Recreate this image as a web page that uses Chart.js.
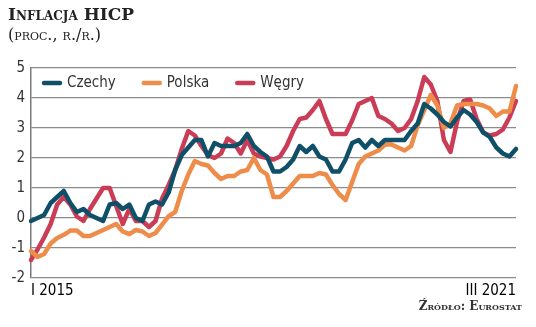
<!DOCTYPE html>
<html>
<head>
<meta charset="utf-8">
<script src="https://cdn.jsdelivr.net/npm/chart.js@4.4.1/dist/chart.umd.min.js"></script>
<style>
  body { margin: 0; background: #fff; }
  #wrap { position: relative; width: 536px; height: 327px; }
  #chart { position: absolute; left: 0; top: 0; }
  .title { position: absolute; left: 8px; top: 4px; font: bold 17px 'DejaVu Serif', serif; font-variant: small-caps; color: #222; }
  .sub { position: absolute; left: 8px; top: 25px; font: 16px 'DejaVu Serif', serif; font-variant: small-caps; color: #222; }
  .source { position: absolute; right: 14px; top: 299px; font: bold 12px 'DejaVu Serif', serif; font-variant: small-caps; color: #333; }
</style>
</head>
<body>
<div id="wrap">
  <canvas id="chart" width="536" height="327"></canvas>
  <div class="title">Inflacja HICP</div>
  <div class="sub">(proc., r./r.)</div>
  <div class="source">Źródło: Eurostat</div>
</div>
<script>
var romans, years, months, czechy, polska, wegry, yTicks, narrow, legendInside, chart;

romans = ['I', 'II', 'III', 'IV', 'V', 'VI', 'VII', 'VIII', 'IX', 'X', 'XI', 'XII'];
years = [2015, 2016, 2017, 2018, 2019, 2020, 2021];

// monthly categories I 2015 ... III 2021
months = [];
years.forEach(function(y) {
  romans.forEach(function(r) {
    if (months.length < 75) {
      months.push(r + ' ' + y);
    }
  });
});

czechy = [
  -0.1, 0.0, 0.1, 0.5, 0.7, 0.9, 0.5, 0.2, 0.3, 0.1, 0.0, -0.1,
  0.45, 0.5, 0.3, 0.45, 0.0, -0.1, 0.45, 0.55, 0.45, 0.85, 1.6, 2.1,
  2.35, 2.6, 2.6, 2.05, 2.5, 2.4, 2.4, 2.4, 2.5, 2.8, 2.4, 2.2,
  2.05, 1.55, 1.55, 1.7, 1.95, 2.4, 2.2, 2.4, 2.05, 1.95, 1.55, 1.55,
  1.95, 2.5, 2.6, 2.35, 2.6, 2.4, 2.6, 2.6, 2.6, 2.6, 2.9, 3.15,
  3.8, 3.65, 3.45, 3.2, 3.05, 3.35, 3.6, 3.45, 3.2, 2.85, 2.7, 2.35,
  2.15, 2.05, 2.3
];

polska = [
  -1.1, -1.3, -1.2, -0.85, -0.67, -0.56, -0.42, -0.42, -0.6, -0.6, -0.5, -0.4,
  -0.3, -0.2, -0.45, -0.54, -0.4, -0.45, -0.6, -0.5, -0.22, 0.06, 0.2, 0.9,
  1.45, 1.9, 1.8, 1.75, 1.5, 1.3, 1.4, 1.4, 1.55, 1.6, 2.0, 1.6,
  1.45, 0.7, 0.7, 0.9, 1.15, 1.4, 1.4, 1.4, 1.5, 1.45, 1.1, 0.8,
  0.6, 1.2, 1.8, 2.05, 2.15, 2.25, 2.45, 2.45, 2.35, 2.25, 2.4, 3.1,
  3.6, 4.1, 3.75, 3.0, 3.15, 3.75, 3.8, 3.8, 3.8, 3.75, 3.65, 3.4,
  3.55, 3.55, 4.4
];

wegry = [
  -1.4, -1.05, -0.65, -0.2, 0.45, 0.7, 0.45, 0.05, -0.1, 0.3, 0.65, 1.0,
  1.0, 0.4, -0.2, 0.3, -0.1, -0.1, -0.3, -0.1, 0.65, 1.1, 1.6, 2.3,
  2.9, 2.75, 2.4, 2.1, 2.0, 2.15, 2.65, 2.5, 2.15, 2.6, 2.15, 2.05,
  2.0, 1.95, 2.05, 2.4, 2.9, 3.3, 3.35, 3.6, 3.9, 3.3, 2.8, 2.8,
  2.8, 3.25, 3.8, 3.9, 4.0, 3.4, 3.3, 3.15, 2.9, 3.0, 3.3, 3.9,
  4.7, 4.45, 3.9, 2.6, 2.2, 3.2, 3.9, 3.95, 3.3, 2.85, 2.75, 2.8,
  2.95, 3.35, 3.9
];

yTicks = [-2, -1, 0, 1, 2, 3, 4, 5];

narrow = "'Liberation Sans Narrow', 'DejaVu Sans Condensed', sans-serif";

function line(label, data, color) {
  return {
    label: label,
    data: data,
    borderColor: color,
    backgroundColor: color,
    borderWidth: 4.5,
    borderCapStyle: 'round',
    borderJoinStyle: 'round',
    pointRadius: 0,
    tension: 0,
    fill: false
  };
}

// legend drawn inside the plot, along its top edge
legendInside = {
  id: 'legendInside',
  afterDraw: function(chart) {
    var ctx, area, x, y;
    ctx = chart.ctx;
    area = chart.chartArea;
    x = area.left + 11;
    y = area.top + 15;
    ctx.save();
    ctx.font = '15px ' + narrow;
    ctx.textBaseline = 'middle';
    chart.data.datasets.forEach(function(ds) {
      ctx.strokeStyle = ds.borderColor;
      ctx.lineWidth = 4.5;
      ctx.lineCap = 'round';
      ctx.beginPath();
      ctx.moveTo(x + 2, y);
      ctx.lineTo(x + 18, y);
      ctx.stroke();
      ctx.fillStyle = '#333';
      ctx.fillText(ds.label, x + 25, y);
      x += 25 + ctx.measureText(ds.label).width + 26;
    });
    ctx.restore();
  }
};

chart = new Chart(document.getElementById('chart'), {
  type: 'line',
  data: {
    labels: months,
    datasets: [
      line('Czechy', czechy, '#0f5068'),
      line('Polska', polska, '#ee8c4a'),
      line('Węgry', wegry, '#cb3d57')
    ]
  },
  plugins: [legendInside],
  options: {
    responsive: false,
    animation: false,
    layout: {
      padding: { top: 68, left: 0, right: 20, bottom: 23 }
    },
    plugins: {
      tooltip: { enabled: false },
      legend: { display: false }
    },
    scales: {
      x: {
        offset: false,
        grid: { display: false, drawTicks: false },
        border: { display: false },
        ticks: {
          autoSkip: false,
          maxRotation: 0,
          align: 'inner',
          padding: 4,
          color: '#000',
          font: { family: narrow, size: 15 },
          callback: function(value, index) {
            if (index === 0 || index === months.length - 1) {
              return months[index];
            }
            return '';
          }
        }
      },
      y: {
        min: yTicks[0],
        max: yTicks[yTicks.length - 1],
        afterFit: function(scale) {
          scale.width = 31;
        },
        grid: { color: '#8c8c8c', lineWidth: 1.3, drawTicks: false },
        border: { display: true, color: '#7a7a7a', width: 1.5 },
        ticks: {
          stepSize: 1,
          padding: 6,
          color: '#333',
          font: { family: narrow, size: 15 }
        }
      }
    }
  }
});
</script>
</body>
</html>
